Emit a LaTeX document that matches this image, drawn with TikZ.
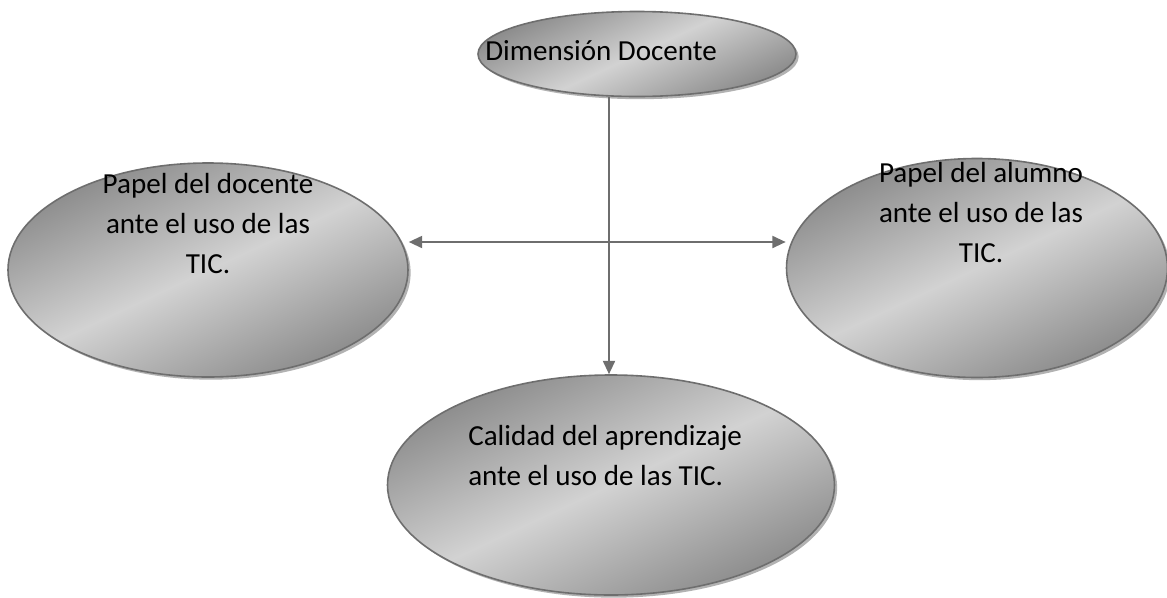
\documentclass[tikz,border=0pt]{standalone}
\usepackage{fontspec}
\setmainfont{Carlito}
\usetikzlibrary{shapes.geometric,shadows,arrows.meta}
\definecolor{bubbleDark}{HTML}{8A8A8A}
\definecolor{bubbleLight}{HTML}{D2D2D2}
\definecolor{connGray}{HTML}{6E6E6E}
\tikzset{bubble/.style={ellipse,draw=connGray,line width=1.2pt,inner sep=0pt,
        top color=bubbleDark,bottom color=bubbleDark,middle color=bubbleLight,
        shading angle=25,
        drop shadow={shadow xshift=2pt,shadow yshift=-2pt,fill=black!30,opacity=1}},
    conn/.style={draw=connGray,line width=1.5pt,
        arrows={-Triangle[length=10pt,width=9pt]}},
    lbl/.style={inner sep=0pt,font=\fontsize{21.8}{30}\selectfont},
    }

\begin{document}
\begin{tikzpicture}[x=0.75pt,y=-0.75pt]
	\useasboundingbox (0,0) rectangle (1167,597);
	% the four bubbles
	\node[bubble,minimum width=238.5pt,minimum height=63.75pt] (dim) at (637,54) {};
	\node[bubble,minimum width=300pt,minimum height=160.5pt] (doc) at (208,270) {};
	\node[bubble,minimum width=285.75pt,minimum height=164.25pt] (alum) at (977,268) {};
	\node[bubble,minimum width=335.25pt,minimum height=165pt] (cal) at (611,485) {};
	% texts
	\node[lbl,anchor=base west] (dimT) at (485,60) {Dimensión Docente};
	\node[lbl,anchor=base,align=center] (docT) at (208,273)
		{Papel del docente\\ante el uso de las\\TIC.};
	\node[lbl,anchor=base,align=center] (alumT) at (981,262)
		{Papel del alumno\\ante el uso de las\\TIC.};
	\node[lbl,anchor=base west,align=left] (calT) at (468,485)
		{Calidad del aprendizaje\\ante el uso de las TIC.};
	% connectors
	\coordinate (mid) at (609,242);
	\draw[conn] (dim.south -| mid) -- (cal.north -| mid);
	\draw[conn,arrows={Triangle[length=10pt,width=9pt]-Triangle[length=10pt,width=9pt]}]
		(doc.east |- mid) -- (alum.west |- mid);
\end{tikzpicture}
\end{document}
